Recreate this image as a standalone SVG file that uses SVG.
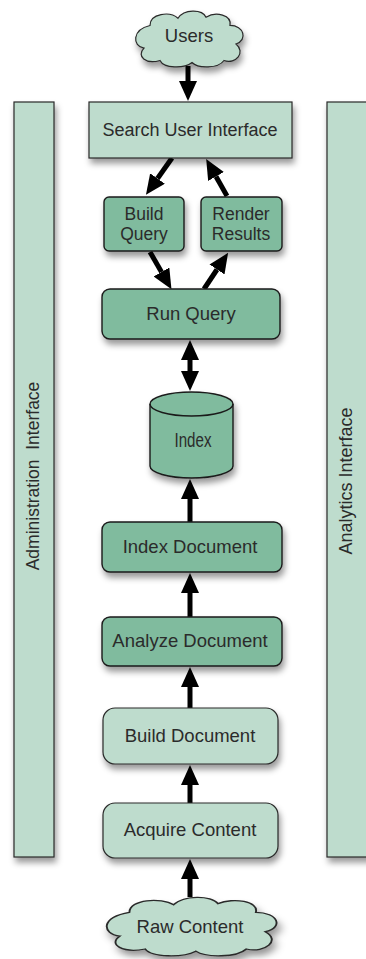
<svg xmlns="http://www.w3.org/2000/svg" width="366" height="959" viewBox="0 0 366 959">
<defs>
<filter id="sh" x="-20%" y="-20%" width="150%" height="150%">
<feDropShadow dx="2" dy="5" stdDeviation="3" flood-color="#000" flood-opacity="0.4"/>
</filter>
<marker id="ah" markerUnits="userSpaceOnUse" markerWidth="20" markerHeight="18" refX="0" refY="9" orient="auto-start-reverse" viewBox="0 0 20 18">
<path d="M0,0 L20,9 L0,18 Z" fill="#000"/>
</marker>
<path id="cloud" d="M18 16 C18 4 38 2 46 9 C52 0 70 0 74 8 C84 2 100 6 98 16 C112 16 116 30 104 34 C114 42 104 54 92 50 C86 58 66 58 60 52 C52 58 32 58 28 50 C14 54 4 46 12 38 C0 36 0 20 18 16 Z"/>
</defs>
<style>
.light{fill:#bedccd;stroke:#2a2a2a;stroke-width:1.2}
.dark{fill:#80bb9e;stroke:#1a1a1a;stroke-width:1.4}
.t{font-family:"Liberation Sans",Arial,sans-serif;font-size:18.5px;fill:#2b2b2b;text-anchor:middle}
.c{stroke:#000;stroke-width:5;fill:none;marker-end:url(#ah)}
</style>

<g id="admin">
<rect class="light" x="14" y="102" width="40" height="755" filter="url(#sh)"/>
<text class="t" xml:space="preserve" transform="translate(39,476) rotate(-90)" style="font-size:17.5px">Administration  Interface</text>
</g>
<g id="analytics">
<rect class="light" x="327" y="102" width="45" height="755" filter="url(#sh)"/>
<text class="t" transform="translate(352,481) rotate(-90)" style="font-size:18px">Analytics Interface</text>
</g>

<g id="connectors">
<line class="c" x1="188" y1="66" x2="188" y2="81"/>
<line class="c" x1="172" y1="158" x2="157.5" y2="178.5"/>
<line class="c" x1="227" y1="196" x2="216" y2="176.5"/>
<line class="c" x1="150" y1="252" x2="161.5" y2="272"/>
<line class="c" x1="204" y1="289" x2="217" y2="269.5"/>
<line class="c" x1="190" y1="360" x2="190" y2="371" style="marker-start:url(#ah)"/>
<line class="c" x1="190" y1="522" x2="190" y2="499"/>
<line class="c" x1="190" y1="617" x2="190" y2="593"/>
<line class="c" x1="190" y1="708" x2="190" y2="687"/>
<line class="c" x1="190" y1="803" x2="190" y2="785"/>
<line class="c" x1="190" y1="897" x2="190" y2="879"/>
</g>

<g id="users">
<use href="#cloud" class="light" transform="translate(132,9) scale(1.0,1.03)" filter="url(#sh)" style="vector-effect:non-scaling-stroke"/>
<text class="t" x="189" y="42">Users</text>
</g>
<g id="search-ui">
<rect class="light" x="89" y="102" width="203" height="56" filter="url(#sh)"/>
<text class="t" x="190" y="136" style="font-size:18px">Search User Interface</text>
</g>
<g id="build-query">
<rect class="dark" x="104" y="197" width="80" height="54" rx="5" filter="url(#sh)"/>
<text class="t" x="144" y="220" style="font-size:17.5px">Build</text>
<text class="t" x="144" y="240" style="font-size:17.5px">Query</text>
</g>
<g id="render-results">
<rect class="dark" x="201" y="197" width="81" height="54" rx="5" filter="url(#sh)"/>
<text class="t" x="241" y="220" style="font-size:17.5px">Render</text>
<text class="t" x="241" y="240" style="font-size:17.5px">Results</text>
</g>
<g id="run-query">
<rect class="dark" x="102" y="289" width="178" height="50" rx="8" filter="url(#sh)"/>
<text class="t" x="191" y="320">Run Query</text>
</g>
<g id="index">
<path class="dark" d="M150,404 L150,466 A41.5,12 0 0 0 233,466 L233,404 A41.5,12 0 0 0 150,404 Z" filter="url(#sh)"/>
<path d="M150,404 A41.5,12 0 0 0 233,404" fill="none" stroke="#1a1a1a" stroke-width="1.4"/>
<text class="t" x="193" y="447" style="font-size:20px" textLength="37" lengthAdjust="spacingAndGlyphs">Index</text>
</g>
<g id="index-document">
<rect class="dark" x="102" y="522" width="180" height="50" rx="8" filter="url(#sh)"/>
<text class="t" x="190" y="553">Index Document</text>
</g>
<g id="analyze-document">
<rect class="dark" x="102" y="617" width="180" height="49" rx="8" filter="url(#sh)"/>
<text class="t" x="190" y="647">Analyze Document</text>
</g>
<g id="build-document">
<rect class="light" x="103" y="708" width="175" height="56" rx="12" filter="url(#sh)"/>
<text class="t" x="190" y="742">Build Document</text>
</g>
<g id="acquire-content">
<rect class="light" x="103" y="803" width="175" height="55" rx="12" filter="url(#sh)"/>
<text class="t" x="190" y="836">Acquire Content</text>
</g>
<g id="raw-content">
<use href="#cloud" class="light" transform="translate(101,895) scale(1.58,1.08)" filter="url(#sh)" style="vector-effect:non-scaling-stroke"/>
<text class="t" x="190" y="933">Raw Content</text>
</g>
</svg>
